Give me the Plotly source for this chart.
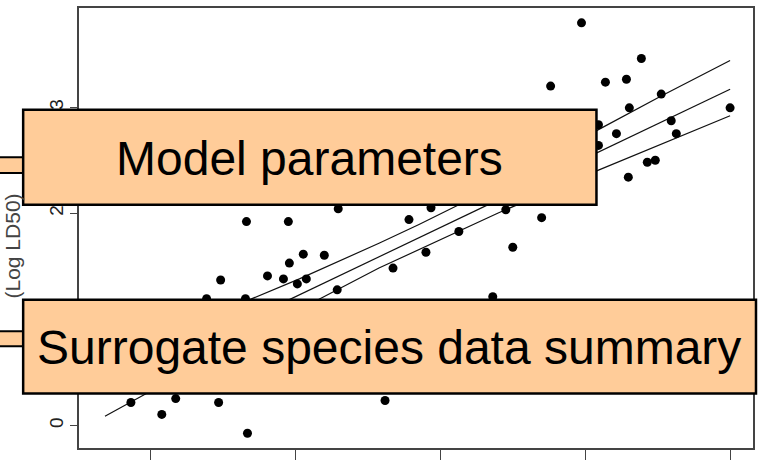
import plotly.graph_objects as go

# ---- data (data units) ----
point_x = [0.865, 1.078, 1.174, 1.470, 1.669, 2.618, 1.484, 1.807, 1.917, 1.958,
           2.054, 2.199, 2.013, 2.075, 2.288, 1.655, 1.387, 1.662, 1.951, 2.295,
           2.783, 2.673, 2.900, 3.127, 3.499, 3.361, 2.935, 3.451, 3.698, 3.973,
           3.760, 4.386, 4.138, 4.283, 4.523, 4.303, 4.998, 4.592, 4.214, 4.627,
           4.090, 4.090, 4.427, 4.482, 4.296]
point_y = [0.217, 0.105, 0.254, 0.217, -0.072, 0.236, 1.372, 1.410, 1.382, 1.531,
           1.615, 1.605, 1.335, 1.382, 1.279, 1.195, 1.195, 1.922, 1.922, 2.043,
           1.941, 1.484, 1.633, 1.829, 1.680, 1.214, 2.053, 2.034, 1.959, 3.795,
           3.199, 3.459, 3.236, 3.264, 3.124, 2.994, 2.994, 2.872, 2.751, 2.751,
           2.835, 2.640, 2.481, 2.500, 2.341]

fit_x = [0.686, 4.998]
fit_y = [0.357, 3.170]

band_x = [0.686, 1.339, 2.027, 2.576, 2.852, 3.402, 4.090, 4.523, 4.998]
upper_y = [0.627, 0.990, 1.382, 1.718, 1.895, 2.267, 2.789, 3.105, 3.441]
lower_y = [0.087, 0.580, 1.093, 1.484, 1.661, 2.006, 2.407, 2.649, 2.919]

y_ticks = [0, 1, 2, 3]
y_tick_labels = ["0", "1", "2", "3"]
x_ticks = [1, 2, 3, 4, 5]

y_title = "(Log LD50)"
box_labels = ["Model parameters", "Surrogate species data summary"]

# ---- figure ----
W, H = 759, 462
L, R, T, B = 79, 4, 8, 9
pw, ph = W - L - R, H - T - B


def px(x):
    return (x - L) / pw


def py(y):
    return (H - B - y) / ph


fig = go.Figure()
line_style = dict(color="#111111", width=1.2)
fig.add_trace(go.Scatter(x=band_x, y=upper_y, mode="lines", line=line_style, hoverinfo="skip"))
fig.add_trace(go.Scatter(x=fit_x, y=fit_y, mode="lines", line=line_style, hoverinfo="skip"))
fig.add_trace(go.Scatter(x=band_x, y=lower_y, mode="lines", line=line_style, hoverinfo="skip"))
fig.add_trace(go.Scatter(x=point_x, y=point_y, mode="markers",
                         marker=dict(color="black", size=9, line=dict(width=0))))

peach = "#FFCC99"
shapes = []
# connector strips at the left
for (ya, yb) in [(159, 175), (335, 350)]:
    shapes.append(dict(type="rect", xref="paper", yref="paper", layer="above",
                       x0=px(-10), x1=px(23), y0=py(yb), y1=py(ya),
                       fillcolor=peach, line=dict(color="black", width=2)))
# boxes
for (xa, xb, ya, yb) in [(23, 598, 111, 207), (23, 758, 303, 398)]:
    shapes.append(dict(type="rect", xref="paper", yref="paper", layer="above",
                       x0=px(xa), x1=px(xb), y0=py(yb), y1=py(ya),
                       fillcolor=peach, line=dict(color="black", width=2.5)))

annotations = [
    dict(text=box_labels[0], xref="paper", yref="paper", x=px(310), y=py(160),
         xanchor="center", yanchor="middle", showarrow=False,
         font=dict(family="Liberation Sans, Arial", size=48, color="black")),
    dict(text=box_labels[1], xref="paper", yref="paper", x=px(390), y=py(351),
         xanchor="center", yanchor="middle", showarrow=False,
         font=dict(family="Liberation Sans, Arial", size=48, color="black")),
    dict(text=y_title, xref="paper", yref="paper", x=px(12), y=py(249),
         xanchor="center", yanchor="middle", showarrow=False, textangle=-90,
         font=dict(family="Liberation Sans, Arial", size=21, color="#444444")),
]

fig.update_layout(
    width=W, height=H,
    margin=dict(l=L, r=R, t=T, b=B, pad=0),
    paper_bgcolor="white", plot_bgcolor="white",
    showlegend=False,
    shapes=shapes, annotations=annotations,
    font=dict(family="Liberation Sans, Arial", color="#222222"),
)
fig.update_xaxes(range=[0.5069, 5.156], tickvals=x_ticks, showticklabels=False,
                 ticks="outside", ticklen=10, tickwidth=1.4, tickcolor="#444444",
                 showline=True, linecolor="#444444", linewidth=1.6, mirror=True,
                 showgrid=False, zeroline=False)
fig.update_yaxes(range=[-0.2115, 3.935], tickvals=y_ticks, ticktext=y_tick_labels,
                 tickangle=-90, tickfont=dict(size=19, color="#222222"),
                 ticks="outside", ticklen=7, tickwidth=1.4, tickcolor="#444444",
                 showline=True, linecolor="#444444", linewidth=1.6, mirror=True,
                 showgrid=False, zeroline=False)

fig.write_html("out.html", config={"displayModeBar": False},
               post_script="document.body.style.margin='0';document.body.style.overflow='hidden';")
